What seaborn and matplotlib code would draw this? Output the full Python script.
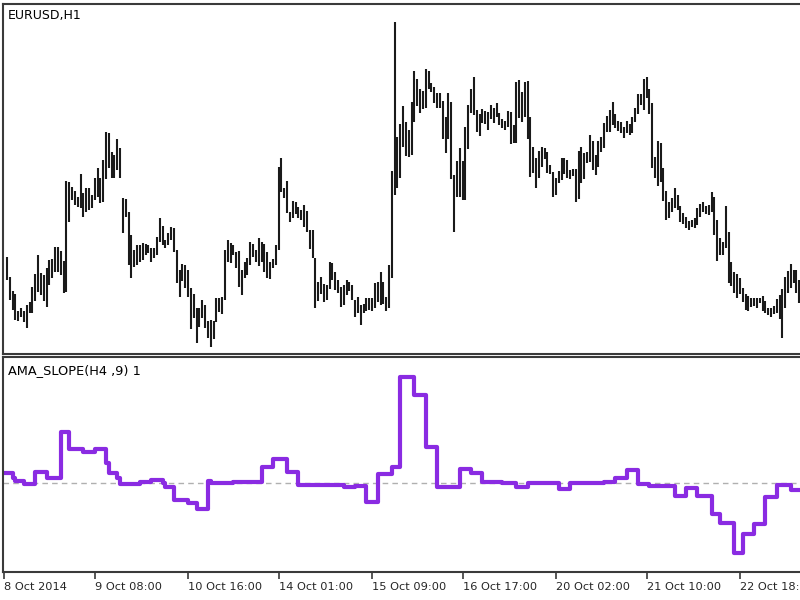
import numpy as np
import pandas as pd
import seaborn as sns
import matplotlib.pyplot as plt

# -------------------------------
# Price bars (EURUSD H1), in pips above BASE
# -------------------------------
BASE = 1.2600

high_pips = [
    88, 68, 54, 51, 34, 37, 34, 40, 43, 58, 71, 90, 72, 70, 77, 85, 86, 98, 98, 94,
    84, 164, 163, 158, 154, 148, 171, 152, 157, 157, 150, 167, 177, 167, 185, 213, 212, 193, 190, 206,
    197, 147, 146, 133, 110, 95, 100, 100, 102,
    101, 100, 97, 97, 108, 127, 119, 105, 112, 118, 117, 95, 75, 81, 80, 75, 57, 51, 37, 37,
    45, 40, 24, 25, 24, 47, 47, 48, 95, 105, 102, 100, 93, 94, 75, 83, 87, 103, 101, 95,
    107, 103, 101, 93, 83, 86, 100,
    178, 187, 157, 164, 133, 144, 143, 138, 135, 140, 134, 115, 115, 87, 63, 68, 61, 60, 83, 82,
    73, 65, 58, 60, 65, 63, 60, 45, 48, 40, 41, 47, 47, 47, 62, 63, 73, 63, 48, 80,
    174, 323, 208, 221, 239, 223,
    215, 243, 274, 266, 256, 254, 276, 274, 262, 258, 252, 252, 244, 228, 252, 243, 170, 184, 197, 184,
    218, 240, 256, 268, 235, 231, 236, 234, 233, 240, 237, 242, 232, 226, 224, 234, 233, 220, 263, 265,
    253, 263, 264, 228, 198, 187, 194,
    198, 197, 193, 180, 173, 167, 174, 187, 187, 185, 175, 176, 176, 194, 198, 192, 193, 210, 204, 190,
    204, 208, 222, 229, 235, 243, 231, 224, 223, 218, 224, 221, 228, 237, 251, 251, 266, 268, 256, 242,
    188, 204, 202, 177, 154, 143,
    147, 157, 150, 139, 132, 128, 124, 125, 127, 137, 141, 143, 139, 140, 153, 148, 125, 107, 103, 139,
    113, 83, 73, 71, 67, 57, 51, 49, 47, 47, 47, 47, 49, 44, 37, 37, 39, 46, 50, 56,
    68, 74, 81, 75, 75, 65, 54,
]

low_pips = [
    65, 45, 35, 25, 24, 28, 23, 17, 32, 32, 44, 53, 50, 44, 38, 60, 67, 73, 73, 70,
    52, 53, 123, 145, 140, 138, 137, 128, 133, 135, 137, 145, 148, 142, 143, 166, 177, 167, 167, 175,
    167, 112, 128, 80, 67, 78, 80, 83, 85,
    90, 92, 83, 87, 90, 103, 100, 97, 100, 105, 93, 62, 48, 64, 57, 48, 16, 27, 2, 18,
    27, 17, 7, -2, 6, 23, 33, 31, 45, 83, 82, 90, 77, 58, 50, 67, 70, 80, 88, 83,
    79, 83, 73, 67, 66, 77, 80,
    95, 153, 147, 132, 123, 127, 131, 127, 125, 118, 113, 96, 87, 37, 44, 51, 43, 45, 56, 65,
    55, 52, 38, 40, 50, 54, 45, 28, 32, 20, 32, 34, 35, 34, 37, 43, 40, 41, 34, 37,
    67, 150, 157, 167, 198, 189,
    188, 190, 223, 239, 232, 236, 237, 256, 253, 242, 237, 237, 206, 192, 206, 166, 113, 148, 148, 145,
    145, 196, 232, 230, 213, 209, 222, 221, 215, 226, 222, 228, 220, 217, 215, 218, 201, 202, 202, 227,
    223, 228, 206, 168, 172, 157, 167,
    178, 186, 172, 171, 148, 150, 162, 165, 171, 167, 166, 169, 143, 146, 162, 166, 182, 183, 175, 170,
    178, 193, 197, 213, 213, 220, 217, 214, 212, 207, 212, 210, 212, 223, 231, 240, 235, 247, 231, 177,
    167, 159, 163, 144, 125, 127,
    133, 137, 135, 123, 121, 117, 115, 118, 117, 120, 128, 133, 131, 130, 133, 110, 84, 90, 90, 97,
    62, 59, 52, 47, 51, 43, 35, 34, 38, 39, 37, 42, 34, 32, 30, 28, 31, 32, 26, 7,
    37, 52, 57, 62, 52, 42, 26,
]

# -------------------------------
# AMA_SLOPE indicator: bar index where each step starts, and its value
# -------------------------------
slope_start = [-1.5, 2, 3, 6, 10, 14, 19, 22, 27, 31, 35, 36, 39, 40, 47, 51, 55, 56, 59, 64,
               67, 71, 72, 80, 90, 94, 99, 103, 119, 123, 127, 131, 136, 139, 144, 148, 152, 160,
               164, 168, 175, 180, 184, 195, 199, 211, 215, 219, 223, 227, 236, 240, 244, 249,
               252, 257, 260, 264, 268, 272, 277]
slope_value = [1.0, 0.5, 0.2, -0.1, 1.1, 0.5, 5.1, 3.4, 3.1, 3.4, 2.0, 1.0, 0.5, -0.1, 0.1, 0.3,
               0.0, -0.4, -1.7, -2.0, -2.6, 0.2, 0.0, 0.1, 1.6, 2.4, 1.1, -0.2, -0.4, -0.3, -1.9,
               0.9, 1.6, 10.6, 8.8, 3.6, -0.4, 1.4, 1.0, 0.1, 0.0, -0.4, 0.0, -0.6, 0.0, 0.1, 0.5,
               1.3, -0.1, -0.3, -1.3, -0.5, -1.3, -3.1, -4.0, -7.0, -5.1, -4.1, -1.4, -0.2, -0.7]

tick_bars = [-1, 31, 64, 96, 129, 161, 194, 226, 259]
tick_labels = ["8 Oct 2014", "9 Oct 08:00", "10 Oct 16:00", "14 Oct 01:00", "15 Oct 09:00",
               "16 Oct 17:00", "20 Oct 02:00", "21 Oct 10:00", "22 Oct 18:00"]

bars = pd.DataFrame({"High": BASE + np.array(high_pips) / 10000,
                     "Low": BASE + np.array(low_pips) / 10000})
bars["Bar"] = np.arange(len(bars))

slope = pd.DataFrame({"Bar": slope_start + [len(bars)],
                      "Slope": slope_value + [slope_value[-1]]})

# -------------------------------
# Figure
# -------------------------------
sns.set_style("white")
plt.rcParams["font.family"] = ["DejaVu Sans"]

fig = plt.figure(figsize=(8, 6), dpi=100)
ax_p = fig.add_axes([3 / 800, 1 - 354 / 600, 1.0, 350 / 600])
ax_i = fig.add_axes([3 / 800, 1 - 572 / 600, 1.0, 215 / 600])

xlim = (-1.4, 281.3)
edge = "#3a3a3a"

# price panel
ax_p.vlines(bars["Bar"], bars["Low"], bars["High"], color="#1a1a1a", linewidth=1.5)
ax_p.set_xlim(*xlim)
ax_p.set_ylim(BASE - 9 / 10000, BASE + 341 / 10000)
ax_p.set_xticks([])
ax_p.set_yticks([])
ax_p.text(5 / 797, 1 - 12 / 350, "EURUSD,H1", transform=ax_p.transAxes,
          fontsize=9, va="center", ha="left", color="black")

# indicator panel
ax_i.axhline(0, color="#b0b0b0", linestyle=(0, (4, 3)), linewidth=1)
sns.lineplot(data=slope, x="Bar", y="Slope", ax=ax_i, drawstyle="steps-post",
             color="#8A2BE2", linewidth=3, estimator=None)
ax_i.set_xlim(*xlim)
ax_i.set_ylim(-8.9, 12.6)
ax_i.set_yticks([])
ax_i.set_xlabel("")
ax_i.set_ylabel("")
ax_i.set_xticks(tick_bars)
ax_i.set_xticklabels(tick_labels, ha="left", fontsize=8.2)
ax_i.tick_params(axis="x", direction="out", length=5, width=1.2, color=edge, pad=2,
                 bottom=True)
ax_i.text(5 / 797, 1 - 14 / 215, "AMA_SLOPE(H4 ,9) 1", transform=ax_i.transAxes,
          fontsize=9.3, va="center", ha="left", color="black")

for ax in (ax_p, ax_i):
    for side in ("top", "left", "bottom"):
        ax.spines[side].set_visible(True)
        ax.spines[side].set_color(edge)
        ax.spines[side].set_linewidth(1.5)
    ax.spines["right"].set_visible(False)

fig.savefig("out.png", dpi=100)
